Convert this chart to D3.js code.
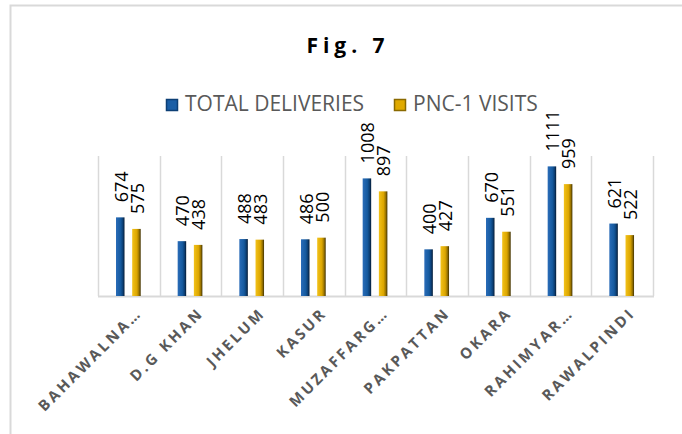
<!DOCTYPE html>
<html>
<head>
<meta charset="utf-8">
<script src="https://cdn.jsdelivr.net/npm/d3@7/dist/d3.min.js"></script>
<style>
  body { margin: 0; background: #fff; }
  text { font-family: "Open Sans", "Liberation Sans", sans-serif; }
</style>
</head>
<body>
<svg id="vis" width="682" height="434"></svg>
<script>
// chart data
var categories = ["BAHAWALNA…", "D.G KHAN", "JHELUM", "KASUR", "MUZAFFARG…", "PAKPATTAN", "OKARA", "RAHIMYAR…", "RAWALPINDI"];
var totalDeliveries = [674, 470, 488, 486, 1008, 400, 670, 1111, 621];
var pnc1Visits = [575, 438, 483, 500, 897, 427, 551, 959, 522];
var seriesNames = ["TOTAL DELIVERIES", "PNC-1 VISITS"];
var yMax = 1200;

var svg = d3.select("svg#vis");

var attr = {
  plotLeft: 98,
  plotRight: 653,
  plotTop: 156,
  plotBottom: 296
};

// gradients to fake the excel 3d look
var defs = svg.append("defs");
function addGrad(id, stops) {
  var gr = defs.append("linearGradient").attr("id", id)
    .attr("x1", "0%").attr("x2", "100%").attr("y1", "0%").attr("y2", "0%");
  stops.forEach(function(s) {
    gr.append("stop").attr("offset", s[0]).attr("stop-color", s[1]);
  });
}
addGrad("gBlue", [["0%", "#2a6cb8"], ["55%", "#155a9f"], ["80%", "#0c3f75"], ["100%", "#041a33"]]);
addGrad("gGold", [["0%", "#f2c21a"], ["55%", "#dca600"], ["80%", "#9b7500"], ["100%", "#3f3000"]]);
var fills = ["url(#gBlue)", "url(#gGold)"];
var swatch = ["#1a5ea6", "#e0aa00"];
var swatchEdge = ["#0c3f75", "#8a6a00"];

// outer chart border
svg.append("rect")
  .attr("x", 10.5).attr("y", 5.5)
  .attr("width", 700).attr("height", 460)
  .attr("fill", "none")
  .attr("stroke", "#d9d9d9")
  .attr("stroke-width", 2);

// title
svg.append("text")
  .attr("x", 348).attr("y", 53)
  .attr("text-anchor", "middle")
  .attr("font-size", "21px")
  .attr("font-weight", "bold")
  .attr("letter-spacing", "5px")
  .attr("fill", "#000")
  .text("Fig. 7");

// scales
var x = d3.scaleBand()
  .domain(categories)
  .range([attr.plotLeft, attr.plotRight])
  .padding(0);

var xs = d3.scaleBand()
  .domain(seriesNames)
  .range([18, 42.7])
  .paddingInner(0.475)
  .paddingOuter(0);

var y = d3.scaleLinear()
  .domain([0, yMax])
  .range([attr.plotBottom, attr.plotTop]);

// vertical gridlines between categories
var bounds = categories.map(function(c) { return x(c); }).concat([attr.plotRight]);
svg.append("g").selectAll("line")
  .data(bounds)
  .enter()
  .append("line")
  .attr("x1", d => Math.round(d) + 0.5)
  .attr("x2", d => Math.round(d) + 0.5)
  .attr("y1", attr.plotTop)
  .attr("y2", attr.plotBottom)
  .attr("stroke", "#d9d9d9")
  .attr("stroke-width", 1.5);

// category axis line
svg.append("line")
  .attr("x1", attr.plotLeft).attr("x2", attr.plotRight + 1)
  .attr("y1", attr.plotBottom + 0.5).attr("y2", attr.plotBottom + 0.5)
  .attr("stroke", "#d9d9d9")
  .attr("stroke-width", 2);

// bars
var rows = categories.map(function(c, i) {
  return { cat: c, vals: [totalDeliveries[i], pnc1Visits[i]] };
});

var groups = svg.append("g").selectAll("g.cat")
  .data(rows)
  .enter()
  .append("g")
  .attr("class", "cat")
  .attr("transform", d => "translate(" + x(d.cat) + ",0)");

groups.selectAll("rect")
  .data(d => d.vals.map(function(v, j) { return { name: seriesNames[j], v: v, j: j }; }))
  .enter()
  .append("rect")
  .attr("x", d => xs(d.name))
  .attr("width", xs.bandwidth())
  .attr("y", d => y(d.v))
  .attr("height", d => attr.plotBottom - y(d.v))
  .attr("fill", d => fills[d.j]);

// data labels, rotated
groups.selectAll("text.val")
  .data(d => d.vals.map(function(v, j) { return { name: seriesNames[j], v: v }; }))
  .enter()
  .append("text")
  .attr("class", "val")
  .attr("transform", d => "translate(" + (xs(d.name) + xs.bandwidth() / 2 + 1) + "," + (y(d.v) - 15) + ") rotate(-90)")
  .attr("dy", "0.35em")
  .attr("font-size", "18px")
  .attr("fill", "#000")
  .text(d => d.v);

// category labels at -45 degrees
svg.append("g").selectAll("text.cat")
  .data(categories)
  .enter()
  .append("text")
  .attr("class", "cat")
  .attr("transform", d => "translate(" + (x(d) + x.bandwidth() / 2 + 14) + "," + (attr.plotBottom + 18) + ") rotate(-45)")
  .attr("text-anchor", "end")
  .attr("font-size", "15px")
  .attr("font-weight", "bold")
  .attr("letter-spacing", "2.8px")
  .attr("fill", "#595959")
  .text(d => d);

// legend
var legendX = [166, 394];
var leg = svg.append("g").selectAll("g.leg")
  .data(seriesNames)
  .enter()
  .append("g")
  .attr("transform", (d, i) => "translate(" + legendX[i] + ",99)");

leg.append("rect")
  .attr("x", 0.5).attr("y", 0.5)
  .attr("width", 11).attr("height", 11)
  .attr("fill", (d, i) => swatch[i])
  .attr("stroke", (d, i) => swatchEdge[i])
  .attr("stroke-width", 1.5);

leg.append("text")
  .attr("x", 19).attr("y", 12)
  .attr("font-size", "21px")
  .attr("fill", "#595959")
  .text(d => d);
</script>
</body>
</html>
